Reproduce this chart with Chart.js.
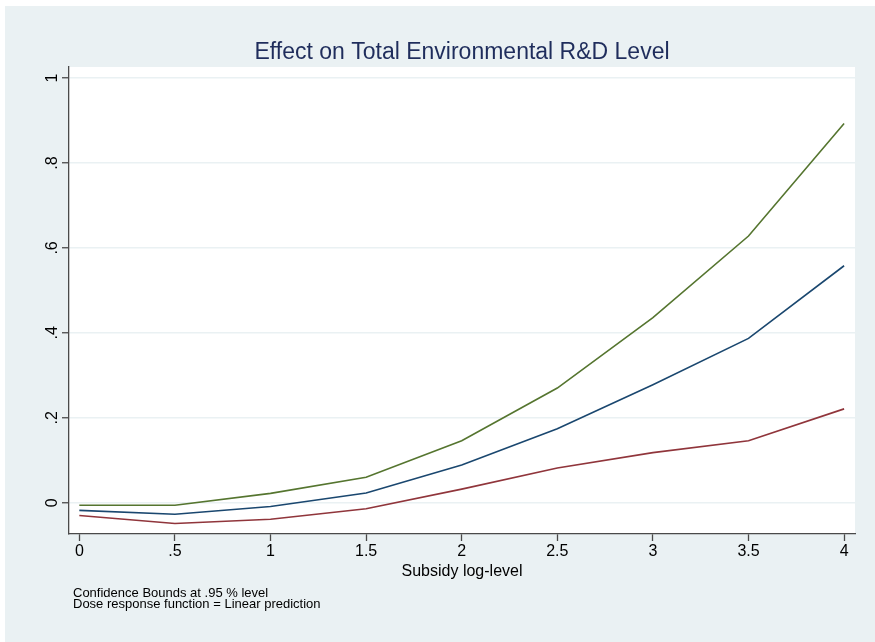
<!DOCTYPE html>
<html>
<head>
<meta charset="utf-8">
<style>
  html, body { margin: 0; padding: 0; background: #ffffff; }
  #wrap { width: 875px; height: 642px; position: relative; }
  canvas { display: block; }
</style>
<script src="https://cdn.jsdelivr.net/npm/chart.js@4.4.1/dist/chart.umd.min.js"></script>
</head>
<body>
<div id="wrap"><canvas id="c" width="875" height="642"></canvas></div>
<script>
// ---- Data ----
const doseLevels = [0, 0.5, 1, 1.5, 2, 2.5, 3, 3.5, 4];
const upperBound = [-0.006, -0.006, 0.022, 0.060, 0.146, 0.270, 0.436, 0.628, 0.893];
const doseResponse = [-0.018, -0.027, -0.009, 0.023, 0.089, 0.174, 0.278, 0.387, 0.558];
const lowerBound = [-0.030, -0.049, -0.039, -0.014, 0.032, 0.082, 0.118, 0.146, 0.221];

const xTickValues = [0, 0.5, 1, 1.5, 2, 2.5, 3, 3.5, 4];
const xTickLabels = ['0', '.5', '1', '1.5', '2', '2.5', '3', '3.5', '4'];
const yTickValues = [0, 0.2, 0.4, 0.6, 0.8, 1];
const yTickLabels = ['0', '.2', '.4', '.6', '.8', '1'];

const chartTitle = 'Effect on Total Environmental R&D Level';
const xAxisTitle = 'Subsidy log-level';
const noteLines = ['Confidence Bounds at .95 % level', 'Dose response function = Linear prediction'];

const toPoints = arr => doseLevels.map((x, i) => ({ x: x, y: arr[i] }));

const FONT = '"Liberation Sans", Arial, Helvetica, sans-serif';
const BG = '#eaf1f3';
const AXIS = '#4a4a4a';

const decor = {
  id: 'decor',
  beforeDraw(chart) {
    const ctx = chart.ctx;
    const a = chart.chartArea;
    ctx.save();
    ctx.fillStyle = '#ffffff';
    ctx.fillRect(0, 0, chart.width, chart.height);
    ctx.fillStyle = BG;
    ctx.fillRect(5, 6, chart.width - 5, chart.height - 6);
    ctx.fillStyle = '#ffffff';
    ctx.fillRect(a.left, a.top, a.right - a.left, a.bottom - a.top);
    ctx.restore();
  },
  afterDraw(chart) {
    const ctx = chart.ctx;
    const a = chart.chartArea;
    const ys = chart.scales.y;
    ctx.save();
    // title
    ctx.fillStyle = '#1f2d5c';
    ctx.font = '23px ' + FONT;
    ctx.textAlign = 'center';
    ctx.textBaseline = 'alphabetic';
    ctx.fillText(chartTitle, (a.left + a.right) / 2, 59);
    // y tick labels, rotated
    ctx.fillStyle = '#000000';
    ctx.font = '16px ' + FONT;
    yTickValues.forEach((v, i) => {
      const py = ys.getPixelForValue(v);
      ctx.save();
      ctx.translate(57, py);
      ctx.rotate(-Math.PI / 2);
      ctx.textAlign = 'center';
      ctx.textBaseline = 'alphabetic';
      ctx.fillText(yTickLabels[i], 0, 0);
      ctx.restore();
    });
    // x axis title
    ctx.textAlign = 'center';
    ctx.textBaseline = 'alphabetic';
    ctx.font = '16px ' + FONT;
    ctx.fillText(xAxisTitle, (a.left + a.right) / 2, 576);
    // notes
    ctx.textAlign = 'left';
    ctx.font = '13px ' + FONT;
    ctx.fillText(noteLines[0], 73, 596.5);
    ctx.fillText(noteLines[1], 73, 608);
    ctx.restore();
  }
};

const ds = (label, data, color) => ({
  label: label,
  data: toPoints(data),
  borderColor: color,
  backgroundColor: color,
  borderWidth: 1.6,
  pointRadius: 0,
  tension: 0,
  fill: false
});

new Chart(document.getElementById('c'), {
  type: 'line',
  data: {
    datasets: [
      ds('Upper bound', upperBound, '#55752f'),
      ds('Dose response', doseResponse, '#1a476f'),
      ds('Lower bound', lowerBound, '#90353b')
    ]
  },
  options: {
    responsive: false,
    animation: false,
    devicePixelRatio: 1,
    layout: { padding: { top: 67, right: 20, bottom: 0, left: 0 } },
    plugins: {
      legend: { display: false },
      title: { display: false },
      tooltip: { enabled: false }
    },
    scales: {
      x: {
        type: 'linear',
        min: -0.054,
        max: 4.057,
        afterBuildTicks: s => { s.ticks = xTickValues.map(v => ({ value: v })); },
        afterFit: s => { s.height = 108; },
        ticks: {
          autoSkip: false,
          maxRotation: 0,
          minRotation: 0,
          padding: 1,
          color: '#000000',
          font: { family: FONT, size: 16 },
          callback: (v) => { const i = xTickValues.indexOf(v); return i >= 0 ? xTickLabels[i] : ''; }
        },
        grid: {
          display: true,
          drawOnChartArea: false,
          drawTicks: true,
          tickLength: 7,
          tickColor: AXIS,
          tickWidth: 1.3
        },
        border: { display: true, color: AXIS, width: 1.3 }
      },
      y: {
        type: 'linear',
        min: -0.0736,
        max: 1.026,
        afterBuildTicks: s => { s.ticks = yTickValues.map(v => ({ value: v })); },
        afterFit: s => { s.width = 69; },
        ticks: { display: false },
        grid: {
          display: true,
          drawOnChartArea: true,
          drawTicks: true,
          tickLength: 7,
          color: '#eaf1f3',
          lineWidth: 1.5,
          tickColor: AXIS,
          tickWidth: 1.3
        },
        border: { display: true, color: AXIS, width: 1.3 }
      }
    }
  },
  plugins: [decor]
});
</script>
</body>
</html>
